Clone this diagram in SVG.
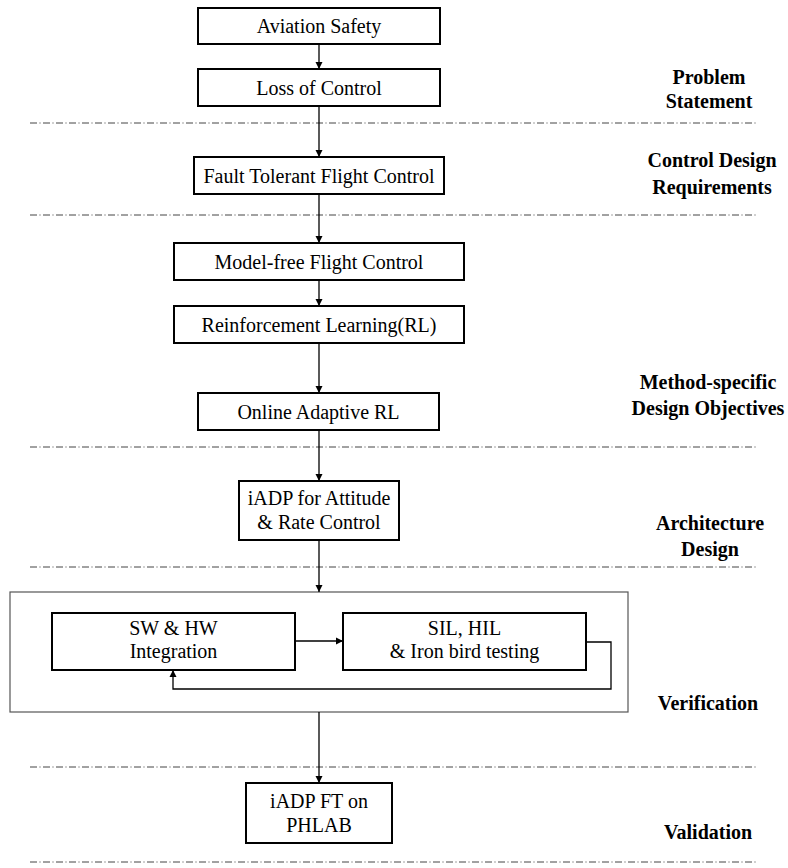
<svg xmlns="http://www.w3.org/2000/svg" width="788" height="868" viewBox="0 0 788 868">
<defs>
<marker id="ah" viewBox="0 0 10 10" refX="10" refY="5" markerWidth="7" markerHeight="8" markerUnits="userSpaceOnUse" orient="auto">
<path d="M0,0 L10,5 L0,10 z" fill="#000"/>
</marker>
<style>
.box{fill:#fff;stroke:#000;stroke-width:2}
.outer{fill:none;stroke:#555;stroke-width:1.2}
.t{font-family:"Liberation Serif","Times New Roman",serif;font-size:20px;fill:#000;text-anchor:middle}
.lab{font-family:"Liberation Serif","Times New Roman",serif;font-size:20px;font-weight:bold;fill:#000;text-anchor:middle}
.dash{stroke:#444;stroke-width:1;stroke-dasharray:7 2.5 1 2.5;fill:none}
.c{stroke:#000;stroke-width:1.3;fill:none}
</style>
</defs>
<rect width="788" height="868" fill="#fff"/>
<g id="separators">
<line class="dash" x1="30" y1="123" x2="756" y2="123"/>
<line class="dash" x1="30" y1="215" x2="756" y2="215"/>
<line class="dash" x1="30" y1="447" x2="756" y2="447"/>
<line class="dash" x1="30" y1="567" x2="756" y2="567"/>
<line class="dash" x1="30" y1="767" x2="756" y2="767"/>
<line class="dash" x1="30" y1="862" x2="756" y2="862"/>
</g>
<g id="verification-frame"><rect class="outer" x="10" y="592" width="618" height="120"/></g>
<g id="connectors">
<line class="c" x1="319" y1="44" x2="319" y2="69" marker-end="url(#ah)"/>
<line class="c" x1="319" y1="106" x2="319" y2="157" marker-end="url(#ah)"/>
<line class="c" x1="319" y1="194" x2="319" y2="243" marker-end="url(#ah)"/>
<line class="c" x1="319" y1="280" x2="319" y2="306" marker-end="url(#ah)"/>
<line class="c" x1="319" y1="343" x2="319" y2="393" marker-end="url(#ah)"/>
<line class="c" x1="319" y1="430" x2="319" y2="481" marker-end="url(#ah)"/>
<line class="c" x1="319" y1="540" x2="319" y2="592" marker-end="url(#ah)"/>
<line class="c" x1="319" y1="712" x2="319" y2="783" marker-end="url(#ah)"/>
<line class="c" x1="295" y1="641" x2="343" y2="641" marker-end="url(#ah)"/>
<path class="c" d="M586,642 H611 V689 H173 V670" marker-end="url(#ah)"/>
</g>
<g id="aviation-safety"><rect class="box" x="198" y="8" width="242" height="36"/><text class="t" x="319" y="33">Aviation Safety</text></g>
<g id="loss-of-control"><rect class="box" x="198" y="69" width="242" height="37"/><text class="t" x="319" y="94.5">Loss of Control</text></g>
<g id="ftfc"><rect class="box" x="194" y="157" width="250" height="37"/><text class="t" x="319" y="182.5">Fault Tolerant Flight Control</text></g>
<g id="model-free"><rect class="box" x="174" y="243" width="290" height="37"/><text class="t" x="319" y="268.5">Model-free Flight Control</text></g>
<g id="rl"><rect class="box" x="174" y="306" width="290" height="37"/><text class="t" x="319" y="331.5">Reinforcement Learning(RL)</text></g>
<g id="online-rl"><rect class="box" x="198" y="393" width="241" height="37"/><text class="t" x="318.5" y="418.5">Online Adaptive RL</text></g>
<g id="iadp"><rect class="box" x="239" y="481" width="160" height="59"/><text class="t" x="319" y="505">iADP for Attitude</text><text class="t" x="319" y="529">&amp; Rate Control</text></g>
<g id="sw-hw"><rect class="box" x="52" y="613" width="243" height="57"/><text class="t" x="173.5" y="635">SW &amp; HW</text><text class="t" x="173.5" y="658">Integration</text></g>
<g id="sil-hil"><rect class="box" x="343" y="613" width="243" height="57"/><text class="t" x="464.5" y="635">SIL, HIL</text><text class="t" x="464.5" y="658">&amp; Iron bird testing</text></g>
<g id="iadp-ft"><rect class="box" x="246" y="783" width="146" height="60"/><text class="t" x="319" y="808">iADP FT on</text><text class="t" x="319" y="832">PHLAB</text></g>
<g id="labels">
<text class="lab" x="709" y="84">Problem</text><text class="lab" x="709" y="108">Statement</text>
<text class="lab" x="712" y="167">Control Design</text><text class="lab" x="712" y="194">Requirements</text>
<text class="lab" x="708" y="389">Method-specific</text><text class="lab" x="708" y="415">Design Objectives</text>
<text class="lab" x="710" y="530">Architecture</text><text class="lab" x="710" y="556">Design</text>
<text class="lab" x="708" y="710">Verification</text>
<text class="lab" x="708" y="839">Validation</text>
</g>
</svg>
